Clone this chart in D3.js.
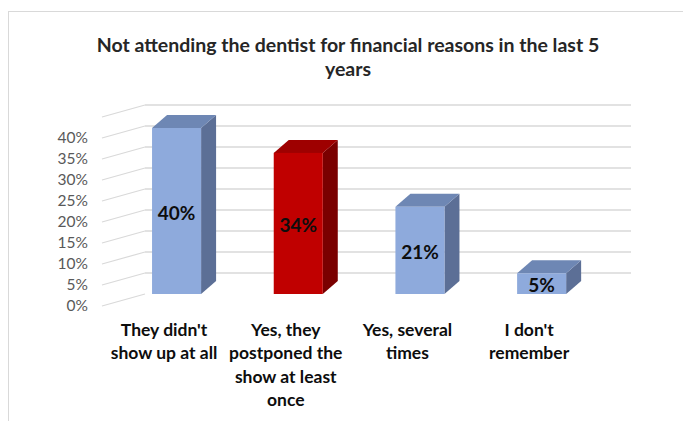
<!DOCTYPE html>
<html>
<head>
<meta charset="utf-8">
<script src="https://cdn.jsdelivr.net/npm/d3@7"></script>
<style>
  html, body { margin: 0; padding: 0; background: #fff; }
  svg { display: block; }
</style>
</head>
<body>
<svg id="chart" width="683" height="421"></svg>
<script>
// ---- data ----
const categories = [
  "They didn't show up at all",
  "Yes, they postponed the show at least once",
  "Yes, several times",
  "I don't remember"
];
const categoryLines = [
  ["They didn't", "show up at all"],
  ["Yes, they", "postponed the", "show at least", "once"],
  ["Yes, several", "times"],
  ["I don't", "remember"]
];
const values = [0.40, 0.34, 0.21, 0.05];
const highlight = [false, true, false, false];
const tickValues = [0, 0.05, 0.10, 0.15, 0.20, 0.25, 0.30, 0.35, 0.40];
const tickLabels = ["0%", "5%", "10%", "15%", "20%", "25%", "30%", "35%", "40%"];
const gridValues = [0, 0.05, 0.10, 0.15, 0.20, 0.25, 0.30, 0.35, 0.40, 0.45];
const titleLines = ["Not attending the dentist for financial reasons in the last 5", "years"];

// ---- layout ----
const svg = d3.select("#chart");
const font = "Lato, 'Open Sans', sans-serif";

// frame
svg.append("rect")
  .attr("x", 8.5).attr("y", 11.5).attr("width", 700).attr("height", 450)
  .attr("fill", "#fff").attr("stroke", "#d9d9d9").attr("stroke-width", 1);

// title
svg.append("text")
  .attr("text-anchor", "middle")
  .attr("font-family", font).attr("font-weight", "bold")
  .attr("font-size", 19.5).attr("fill", "#262626")
  .selectAll("tspan").data(titleLines).join("tspan")
  .attr("x", 348).attr("y", (d, i) => 52 + i * 24)
  .text(d => d);

const y = d3.scaleLinear().domain([0, 0.45]).range([294, 105]);
const yBar = d3.scaleLinear().domain([0, 0.40]).range([294, 128]);
const x = d3.scaleBand().domain(categories).range([79.4, 638.8]).padding(0.597);

const wallLeft = 145, wallRight = 631;
const sideDx = -43, sideDy = 12;
const depthDx = 15, depthDy = -13;

// back wall gridlines
svg.append("g").selectAll("line").data(gridValues.filter(v => v > 0)).join("line")
  .attr("x1", wallLeft).attr("x2", wallRight)
  .attr("y1", d => y(d)).attr("y2", d => y(d))
  .attr("stroke", "#d9d9d9").attr("stroke-width", 1.5);
// side wall gridlines
svg.append("g").selectAll("line").data(gridValues).join("line")
  .attr("x1", wallLeft).attr("x2", wallLeft + sideDx)
  .attr("y1", d => y(d)).attr("y2", d => y(d) + sideDy)
  .attr("stroke", "#d9d9d9").attr("stroke-width", 1.2);

// y tick labels
svg.append("g").selectAll("text").data(tickValues).join("text")
  .attr("x", 88).attr("y", d => y(d) + sideDy)
  .attr("dy", "0.35em").attr("text-anchor", "end")
  .attr("font-family", font).attr("font-size", 15.5).attr("fill", "#595959")
  .text((d, i) => tickLabels[i]);

// bars
const colors = {
  normal: { front: "#8eaadc", top: "#6e87b4", side: "#5c6f96" },
  hi: { front: "#c00000", top: "#9e0000", side: "#7a0000" }
};
const bars = svg.append("g").selectAll("g").data(categories).join("g");
bars.each(function(c, i) {
  const g = d3.select(this);
  const x0 = x(c), x1 = x(c) + x.bandwidth();
  const yt = yBar(values[i]), yb = yBar(0);
  const col = highlight[i] ? colors.hi : colors.normal;
  g.append("polygon")
    .attr("points", [[x1, yt], [x1 + depthDx, yt + depthDy], [x1 + depthDx, yb + depthDy], [x1, yb]].join(" "))
    .attr("fill", col.side);
  g.append("polygon")
    .attr("points", [[x0, yt], [x0 + depthDx, yt + depthDy], [x1 + depthDx, yt + depthDy], [x1, yt]].join(" "))
    .attr("fill", col.top);
  g.append("rect")
    .attr("x", x0).attr("y", yt).attr("width", x.bandwidth()).attr("height", yb - yt)
    .attr("fill", col.front);
  g.append("text")
    .attr("x", (x0 + x1) / 2).attr("y", (yt + yb) / 2 + 2)
    .attr("dy", "0.35em").attr("text-anchor", "middle")
    .attr("font-family", font).attr("font-weight", "bold").attr("font-size", 19)
    .attr("fill", "#0d0d0d")
    .text(d3.format(".0%")(values[i]));
});

// category labels
const labels = svg.append("g").selectAll("text").data(categories).join("text")
  .attr("text-anchor", "middle")
  .attr("font-family", font).attr("font-weight", "bold").attr("font-size", 17.5)
  .attr("fill", "#0d0d0d");
labels.each(function(c, i) {
  const cx = x(c) + x.bandwidth() / 2 - 12.5;
  d3.select(this).selectAll("tspan").data(categoryLines[i]).join("tspan")
    .attr("x", cx).attr("y", (d, j) => 336 + j * 23.3)
    .text(d => d);
});
</script>
</body>
</html>
